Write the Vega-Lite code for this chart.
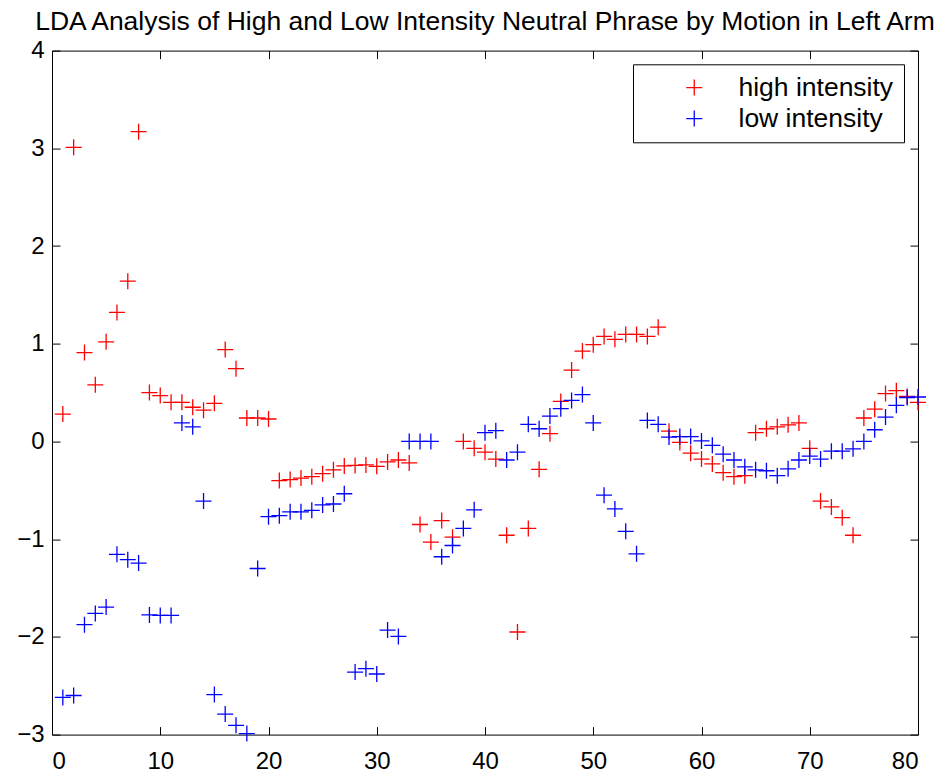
{
  "$schema": "https://vega.github.io/schema/vega-lite/v6.json",
  "width": 866,
  "height": 684,
  "autosize": {"type": "none"},
  "padding": {"left": 52, "top": 50.6, "right": 33, "bottom": 45},
  "background": "white",
  "title": {"text": "LDA Analysis of High and Low Intensity Neutral Phrase by Motion in Left Arm", "fontSize": 26.5, "font": "Liberation Sans", "fontWeight": "normal", "color": "black", "anchor": "middle", "offset": 3},
  "config": {
    "view": {"stroke": "black", "strokeWidth": 1},
    "font": "Liberation Sans",
    "axis": {"domain": false, "grid": false, "labelFont": "Liberation Sans", "labelFontSize": 24, "labelColor": "black", "tickColor": "black", "tickSize": -8, "tickWidth": 1}
  },
  "data": {"values": [
    {"x":1,"high intensity":0.28,"low intensity":-2.62},
    {"x":2,"high intensity":3.01,"low intensity":-2.60},
    {"x":3,"high intensity":0.91,"low intensity":-1.875},
    {"x":4,"high intensity":0.58,"low intensity":-1.76},
    {"x":5,"high intensity":1.02,"low intensity":-1.695},
    {"x":6,"high intensity":1.32,"low intensity":-1.155},
    {"x":7,"high intensity":1.64,"low intensity":-1.21},
    {"x":8,"high intensity":3.17,"low intensity":-1.245},
    {"x":9,"high intensity":0.50,"low intensity":-1.775},
    {"x":10,"high intensity":0.47,"low intensity":-1.78},
    {"x":11,"high intensity":0.40,"low intensity":-1.78},
    {"x":12,"high intensity":0.40,"low intensity":0.19},
    {"x":13,"high intensity":0.35,"low intensity":0.15},
    {"x":14,"high intensity":0.32,"low intensity":-0.61},
    {"x":15,"high intensity":0.39,"low intensity":-2.59},
    {"x":16,"high intensity":0.94,"low intensity":-2.79},
    {"x":17,"high intensity":0.745,"low intensity":-2.905},
    {"x":18,"high intensity":0.24,"low intensity":-2.99},
    {"x":19,"high intensity":0.24,"low intensity":-1.30},
    {"x":20,"high intensity":0.23,"low intensity":-0.77},
    {"x":21,"high intensity":-0.40,"low intensity":-0.76},
    {"x":22,"high intensity":-0.39,"low intensity":-0.72},
    {"x":23,"high intensity":-0.375,"low intensity":-0.72},
    {"x":24,"high intensity":-0.36,"low intensity":-0.705},
    {"x":25,"high intensity":-0.33,"low intensity":-0.65},
    {"x":26,"high intensity":-0.29,"low intensity":-0.64},
    {"x":27,"high intensity":-0.25,"low intensity":-0.535},
    {"x":28,"high intensity":-0.245,"low intensity":-2.36},
    {"x":29,"high intensity":-0.24,"low intensity":-2.325},
    {"x":30,"high intensity":-0.255,"low intensity":-2.38},
    {"x":31,"high intensity":-0.21,"low intensity":-1.93},
    {"x":32,"high intensity":-0.19,"low intensity":-1.995},
    {"x":33,"high intensity":-0.22,"low intensity":0.0},
    {"x":34,"high intensity":-0.85,"low intensity":0.0},
    {"x":35,"high intensity":-1.03,"low intensity":0.0},
    {"x":36,"high intensity":-0.81,"low intensity":-1.18},
    {"x":37,"high intensity":-0.98,"low intensity":-1.065},
    {"x":38,"high intensity":0.0,"low intensity":-0.89},
    {"x":39,"high intensity":-0.07,"low intensity":-0.70},
    {"x":40,"high intensity":-0.11,"low intensity":0.09},
    {"x":41,"high intensity":-0.18,"low intensity":0.11},
    {"x":42,"high intensity":-0.96,"low intensity":-0.19},
    {"x":43,"high intensity":-1.95,"low intensity":-0.11},
    {"x":44,"high intensity":-0.89,"low intensity":0.175},
    {"x":45,"high intensity":-0.285,"low intensity":0.13},
    {"x":46,"high intensity":0.08,"low intensity":0.26},
    {"x":47,"high intensity":0.41,"low intensity":0.335},
    {"x":48,"high intensity":0.73,"low intensity":0.42},
    {"x":49,"high intensity":0.925,"low intensity":0.48},
    {"x":50,"high intensity":0.99,"low intensity":0.19},
    {"x":51,"high intensity":1.075,"low intensity":-0.55},
    {"x":52,"high intensity":1.045,"low intensity":-0.69},
    {"x":53,"high intensity":1.095,"low intensity":-0.92},
    {"x":54,"high intensity":1.095,"low intensity":-1.15},
    {"x":55,"high intensity":1.075,"low intensity":0.215},
    {"x":56,"high intensity":1.17,"low intensity":0.175},
    {"x":57,"high intensity":0.105,"low intensity":0.045},
    {"x":58,"high intensity":-0.01,"low intensity":0.05},
    {"x":59,"high intensity":-0.12,"low intensity":0.05},
    {"x":60,"high intensity":-0.18,"low intensity":0.005},
    {"x":61,"high intensity":-0.23,"low intensity":-0.04},
    {"x":62,"high intensity":-0.32,"low intensity":-0.13},
    {"x":63,"high intensity":-0.36,"low intensity":-0.19},
    {"x":64,"high intensity":-0.35,"low intensity":-0.26},
    {"x":65,"high intensity":0.09,"low intensity":-0.29},
    {"x":66,"high intensity":0.13,"low intensity":-0.30},
    {"x":67,"high intensity":0.15,"low intensity":-0.35},
    {"x":68,"high intensity":0.17,"low intensity":-0.28},
    {"x":69,"high intensity":0.19,"low intensity":-0.19},
    {"x":70,"high intensity":-0.07,"low intensity":-0.15},
    {"x":71,"high intensity":-0.61,"low intensity":-0.18},
    {"x":72,"high intensity":-0.67,"low intensity":-0.10},
    {"x":73,"high intensity":-0.78,"low intensity":-0.10},
    {"x":74,"high intensity":-0.96,"low intensity":-0.075},
    {"x":75,"high intensity":0.24,"low intensity":0.0},
    {"x":76,"high intensity":0.33,"low intensity":0.12},
    {"x":77,"high intensity":0.49,"low intensity":0.25},
    {"x":78,"high intensity":0.52,"low intensity":0.37},
    {"x":79,"high intensity":0.46,"low intensity":0.45},
    {"x":80,"high intensity":0.40,"low intensity":0.455}
  ]},
  "transform": [{"fold": ["high intensity", "low intensity"], "as": ["s", "y"]}],
  "layer": [
    {
      "mark": {"type": "point", "shape": "M-1,0H1M0,-1V1", "filled": false, "size": 256, "strokeWidth": 1.3, "opacity": 1},
      "encoding": {
        "x": {"field": "x", "type": "quantitative", "scale": {"domain": [0, 80], "nice": false, "zero": false}, "axis": {"orient": "bottom", "values": [0,10,20,30,40,50,60,70,80], "title": null, "labelPadding": 23}},
        "y": {"field": "y", "type": "quantitative", "scale": {"domain": [-3, 4], "nice": false, "zero": false}, "axis": {"orient": "left", "values": [-3,-2,-1,0,1,2,3,4], "title": null, "labelPadding": 16}},
        "color": {"field": "s", "type": "nominal", "scale": {"domain": ["high intensity", "low intensity"], "range": ["#ff0000", "#0000ff"]},
          "legend": {"title": null, "orient": "none", "legendX": 581, "legendY": 13.7, "strokeColor": "black", "fillColor": "white", "padding": 10, "labelFontSize": 26.5, "labelFont": "Liberation Sans", "labelColor": "black", "labelLimit": 300, "symbolOffset": 38, "labelOffset": 31, "rowPadding": 4, "symbolStrokeWidth": 1.3, "symbolSize": 256, "symbolType": "M-1,0H1M0,-1V1"}}
      }
    },
    {
      "mark": {"type": "point", "opacity": 0},
      "encoding": {
        "x": {"field": "x", "type": "quantitative", "scale": {"domain": [0, 80], "nice": false, "zero": false}, "axis": {"orient": "top", "values": [0,10,20,30,40,50,60,70,80], "title": null, "labels": false, "labelPadding": 0, "minExtent": 0, "maxExtent": 0}},
        "y": {"field": "y", "type": "quantitative", "scale": {"domain": [-3, 4], "nice": false, "zero": false}, "axis": {"orient": "right", "values": [-3,-2,-1,0,1,2,3,4], "title": null, "labels": false, "labelPadding": 0, "minExtent": 0, "maxExtent": 0}}
      }
    }
  ],
  "resolve": {"axis": {"x": "independent", "y": "independent"}}
}
